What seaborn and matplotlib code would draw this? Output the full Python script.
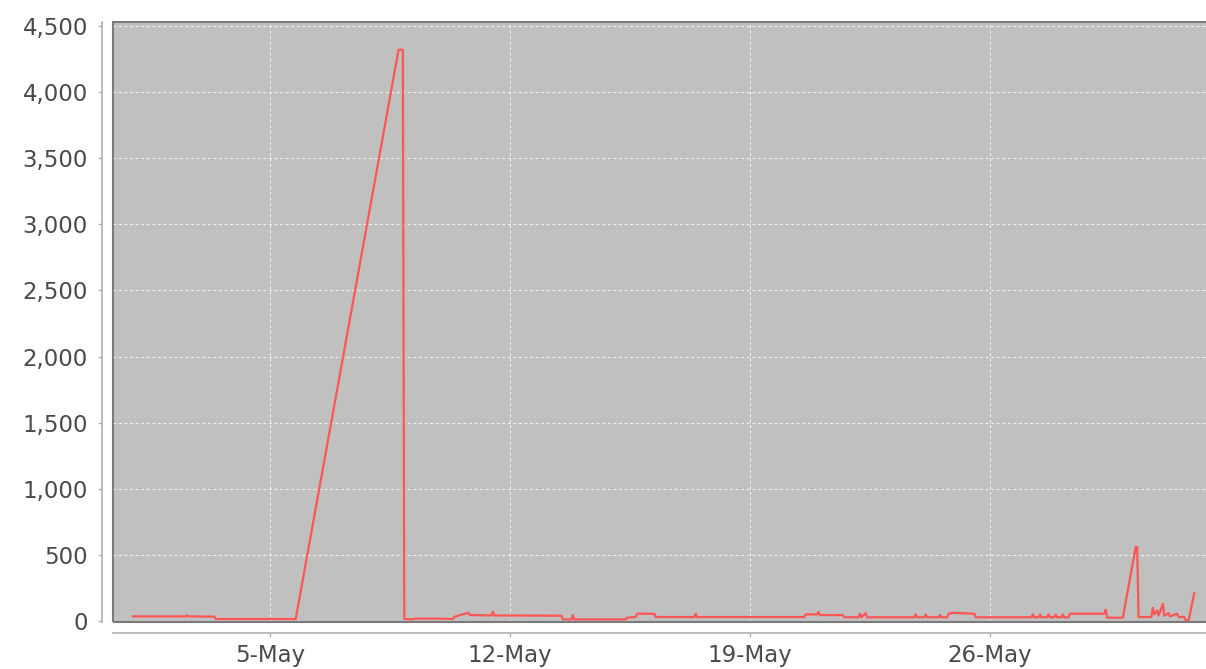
import pandas as pd
import numpy as np
import matplotlib
matplotlib.use("Agg")
import matplotlib.pyplot as plt
import matplotlib.dates as mdates
from matplotlib.ticker import StrMethodFormatter
from matplotlib.patches import Rectangle
import seaborn as sns

# Données (horodatage, valeur)
times = [
    "2014-05-01 00:00", "2014-05-02 13:00", "2014-05-02 14:00", "2014-05-02 15:00",
    "2014-05-03 09:00", "2014-05-03 10:00", "2014-05-05 18:00",
    "2014-05-08 18:00", "2014-05-08 21:00", "2014-05-08 22:00",
    "2014-05-09 04:00", "2014-05-09 05:00", "2014-05-09 20:00",
    "2014-05-10 08:00", "2014-05-10 09:00", "2014-05-10 13:00", "2014-05-10 19:00", "2014-05-10 20:00",
    "2014-05-11 11:00", "2014-05-11 12:00", "2014-05-11 13:00",
    "2014-05-13 12:00", "2014-05-13 13:00", "2014-05-13 19:00", "2014-05-13 20:00", "2014-05-13 21:00",
    "2014-05-15 09:00", "2014-05-15 10:00", "2014-05-15 16:00", "2014-05-15 17:00",
    "2014-05-16 05:00", "2014-05-16 06:00",
    "2014-05-17 09:00", "2014-05-17 10:00", "2014-05-17 11:00",
    "2014-05-20 14:00", "2014-05-20 15:00", "2014-05-20 23:00", "2014-05-21 00:00", "2014-05-21 01:00",
    "2014-05-21 17:00", "2014-05-21 18:00",
    "2014-05-22 04:00", "2014-05-22 05:00", "2014-05-22 06:00",
    "2014-05-22 09:00", "2014-05-22 10:00",
    "2014-05-23 19:00", "2014-05-23 20:00", "2014-05-23 21:00",
    "2014-05-24 02:00", "2014-05-24 03:00", "2014-05-24 04:00",
    "2014-05-24 12:00", "2014-05-24 13:00", "2014-05-24 14:00",
    "2014-05-24 18:00", "2014-05-24 19:00", "2014-05-24 22:00",
    "2014-05-25 13:00", "2014-05-25 14:00",
    "2014-05-27 05:00", "2014-05-27 06:00", "2014-05-27 07:00",
    "2014-05-27 10:00", "2014-05-27 11:00", "2014-05-27 12:00",
    "2014-05-27 16:00", "2014-05-27 17:00", "2014-05-27 18:00",
    "2014-05-27 21:00", "2014-05-27 22:00", "2014-05-27 23:00",
    "2014-05-28 02:00", "2014-05-28 03:00", "2014-05-28 04:00",
    "2014-05-28 07:00", "2014-05-28 08:00",
    "2014-05-29 08:00", "2014-05-29 09:00", "2014-05-29 10:00",
    "2014-05-29 21:00", "2014-05-30 06:00", "2014-05-30 07:00", "2014-05-30 08:00",
    "2014-05-30 17:00", "2014-05-30 18:00", "2014-05-30 19:00",
    "2014-05-30 21:00", "2014-05-30 22:00",
    "2014-05-31 01:00", "2014-05-31 02:00",
    "2014-05-31 05:00", "2014-05-31 06:00",
    "2014-05-31 11:00", "2014-05-31 12:00",
    "2014-05-31 16:00", "2014-05-31 17:00", "2014-05-31 19:00", "2014-05-31 23:00",
]
values = [
    35, 35, 42, 35,
    33, 15, 15,
    4320, 4320, 15,
    12, 18, 18,
    15, 30, 45, 62, 45,
    42, 70, 42,
    40, 12, 12, 45, 12,
    12, 25, 30, 55,
    55, 30,
    30, 55, 30,
    30, 50, 50, 68, 45,
    45, 28,
    28, 55, 28,
    60, 28,
    28, 50, 28,
    28, 50, 28,
    28, 45, 28,
    28, 55, 62,
    55, 28,
    28, 50, 28,
    28, 48, 28,
    28, 50, 28,
    28, 48, 28,
    28, 50, 28,
    28, 55,
    55, 85, 25,
    25, 560, 560, 30,
    30, 100, 50,
    80, 40,
    130, 40,
    60, 35,
    55, 30,
    30, 5, 5, 210,
]

y_ticks = [0, 500, 1000, 1500, 2000, 2500, 3000, 3500, 4000, 4500]
x_tick_days = [5, 12, 19, 26]

df = pd.DataFrame({"time": pd.to_datetime(times), "value": values})

# Figure
fig = plt.figure(figsize=(12.06, 6.69), dpi=100)
ax = fig.add_axes([113 / 1206, 47 / 669, (1212 - 113) / 1206, 600 / 669])
ax.set_facecolor("#C0C0C0")

sns.lineplot(data=df, x="time", y="value", color="#FF5555", linewidth=1.6, ax=ax)

origin = pd.Timestamp("2014-05-05")
ax.set_xlim(origin + pd.Timedelta(days=-4.579), origin + pd.Timedelta(days=27.475))
ax.set_ylim(-7.6, 4530)

ax.set_yticks(y_ticks)
ax.yaxis.set_major_formatter(StrMethodFormatter("{x:,.0f}"))
ax.xaxis.set_major_locator(mdates.DayLocator(bymonthday=x_tick_days))
ax.xaxis.set_major_formatter(mdates.DateFormatter("%-d-%b"))

ax.grid(True, color="#F2F2F2", linestyle=(0, (2.5, 2.5)), linewidth=0.8)
ax.set_axisbelow(True)

ax.set_xlabel("")
ax.set_ylabel("")

# Axes décalés façon JFreeChart
for side in ["top", "right"]:
    ax.spines[side].set_visible(False)
for side in ["left", "bottom"]:
    ax.spines[side].set_position(("outward", 8))
    ax.spines[side].set_color("#B0B0B0")
    ax.spines[side].set_linewidth(1.2)

ax.add_patch(Rectangle((0, 0), 1, 1, transform=ax.transAxes, fill=False,
                       edgecolor="#7A7A7A", linewidth=1.5, clip_on=False, zorder=5))

ax.tick_params(axis="both", colors="#B0B0B0", labelcolor="#4A4A4A",
               labelsize=16.5, length=3, width=1.0)
ax.tick_params(axis="y", pad=7)
ax.tick_params(axis="x", pad=5)

fig.savefig("out.png", dpi=100)
